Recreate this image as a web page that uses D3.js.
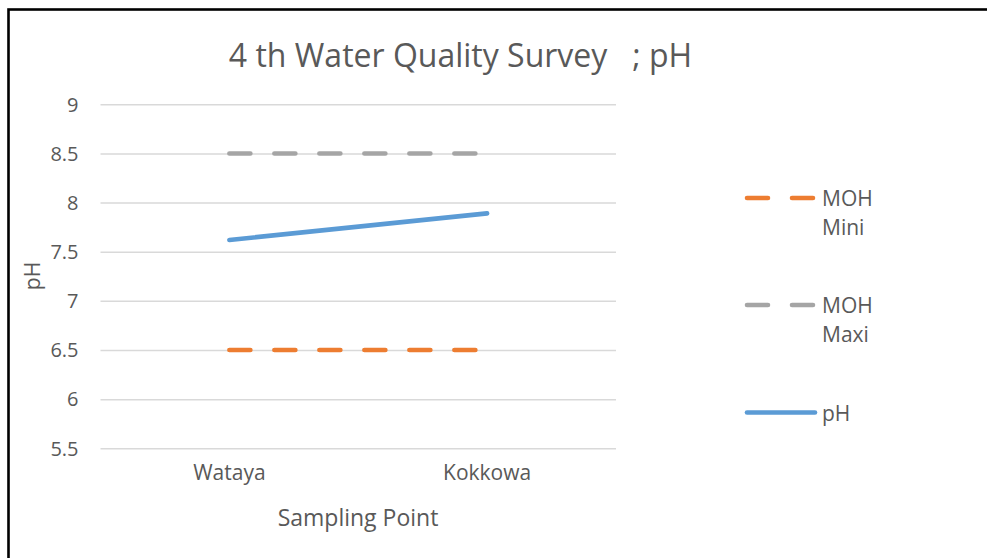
<!DOCTYPE html>
<html>
<head>
<meta charset="utf-8">
<script src="https://cdn.jsdelivr.net/npm/d3@7"></script>
<style>
  html, body { margin: 0; padding: 0; background: #fff; }
  svg { display: block; }
  text { font-family: "Open Sans", "Noto Sans", sans-serif; fill: #595959; }
</style>
</head>
<body>
<svg id="chart" width="987" height="558"></svg>
<script>
// ---- data ----
const categories = ["Wataya", "Kokkowa"];
const mohMini = [6.5, 6.5];
const mohMaxi = [8.5, 8.5];
const phValues = [7.62, 7.89];
const yTicks = [5.5, 6, 6.5, 7, 7.5, 8, 8.5, 9];
const seriesNames = ["MOH Mini", "MOH Maxi", "pH"];
const titleText = "4 th Water Quality Survey   ; pH";
const xTitle = "Sampling Point";
const yTitle = "pH";

// ---- layout ----
const svg = d3.select("#chart");
const W = 987, H = 558;
const plot = { left: 100.5, right: 616, top: 104.3, bottom: 448.3 };

// outer frame
svg.append("rect")
  .attr("x", 8.5).attr("y", 9.5)
  .attr("width", W + 20).attr("height", H + 20)
  .attr("fill", "#fff").attr("stroke", "#000").attr("stroke-width", 2.6);

const x = d3.scaleBand().domain(categories).range([plot.left, plot.right]).padding(0);
const cx = d => x(d) + x.bandwidth() / 2;
const y = d3.scaleLinear().domain([5.5, 9]).range([plot.bottom, plot.top]);

// gridlines
const yAxis = d3.axisLeft(y).tickValues(yTicks).tickSize(-(plot.right - plot.left)).tickPadding(22)
  .tickFormat(d => String(d));
const gy = svg.append("g").attr("transform", `translate(${plot.left},0)`).call(yAxis);
gy.select(".domain").remove();
gy.selectAll(".tick line").attr("stroke", "#D9D9D9").attr("stroke-width", 1.5);
gy.selectAll(".tick text").attr("font-size", 20).attr("fill", "#595959")
  .attr("font-family", "'Open Sans', sans-serif").attr("dy", "0.34em");

// x axis labels
const xAxis = d3.axisBottom(x).tickSize(0).tickPadding(17);
const gx = svg.append("g").attr("transform", `translate(0,${plot.bottom})`).call(xAxis);
gx.select(".domain").remove();
gx.selectAll(".tick text").attr("font-size", 21).attr("fill", "#595959")
  .attr("font-family", "'Open Sans', sans-serif");

// series
const line = d3.line().x((d, i) => cx(categories[i])).y(d => y(d));
const series = [
  { name: seriesNames[0], values: mohMini, color: "#ED7D31", dash: "21,24" },
  { name: seriesNames[1], values: mohMaxi, color: "#A5A5A5", dash: "21,24" },
  { name: seriesNames[2], values: phValues, color: "#5B9BD5", dash: null }
];
series.forEach(s => {
  svg.append("path")
    .datum(s.values)
    .attr("d", line)
    .attr("fill", "none")
    .attr("stroke", s.color)
    .attr("stroke-width", 4.6)
    .attr("stroke-linecap", "round")
    .attr("stroke-dasharray", s.dash);
});

// title
svg.append("text")
  .attr("x", 460.5).attr("y", 54)
  .attr("text-anchor", "middle").attr("dominant-baseline", "central")
  .attr("font-size", 32).attr("fill", "#595959")
  .attr("xml:space", "preserve")
  .style("white-space", "pre")
  .text(titleText);

// axis titles
svg.append("text")
  .attr("x", 358).attr("y", 517)
  .attr("text-anchor", "middle").attr("dominant-baseline", "central")
  .attr("font-size", 23)
  .text(xTitle);
svg.append("text")
  .attr("transform", "translate(32,276) rotate(-90)")
  .attr("text-anchor", "middle").attr("dominant-baseline", "central")
  .attr("font-size", 21)
  .text(yTitle);

// legend
const legendY = [198, 305, 412.5];
const legendLines = [["MOH", "Mini"], ["MOH", "Maxi"], ["pH"]];
series.forEach((s, i) => {
  const g = svg.append("g");
  g.append("line")
    .attr("x1", 747).attr("x2", s.dash ? 813 : 815)
    .attr("y1", legendY[i]).attr("y2", legendY[i])
    .attr("stroke", s.color).attr("stroke-width", 4.6)
    .attr("stroke-linecap", "round")
    .attr("stroke-dasharray", s.dash);
  legendLines[i].forEach((t, j) => {
    g.append("text")
      .attr("x", 822).attr("y", legendY[i] + j * 28.5)
      .attr("dominant-baseline", "central")
      .attr("font-size", 21)
      .text(t);
  });
});
</script>
</body>
</html>
